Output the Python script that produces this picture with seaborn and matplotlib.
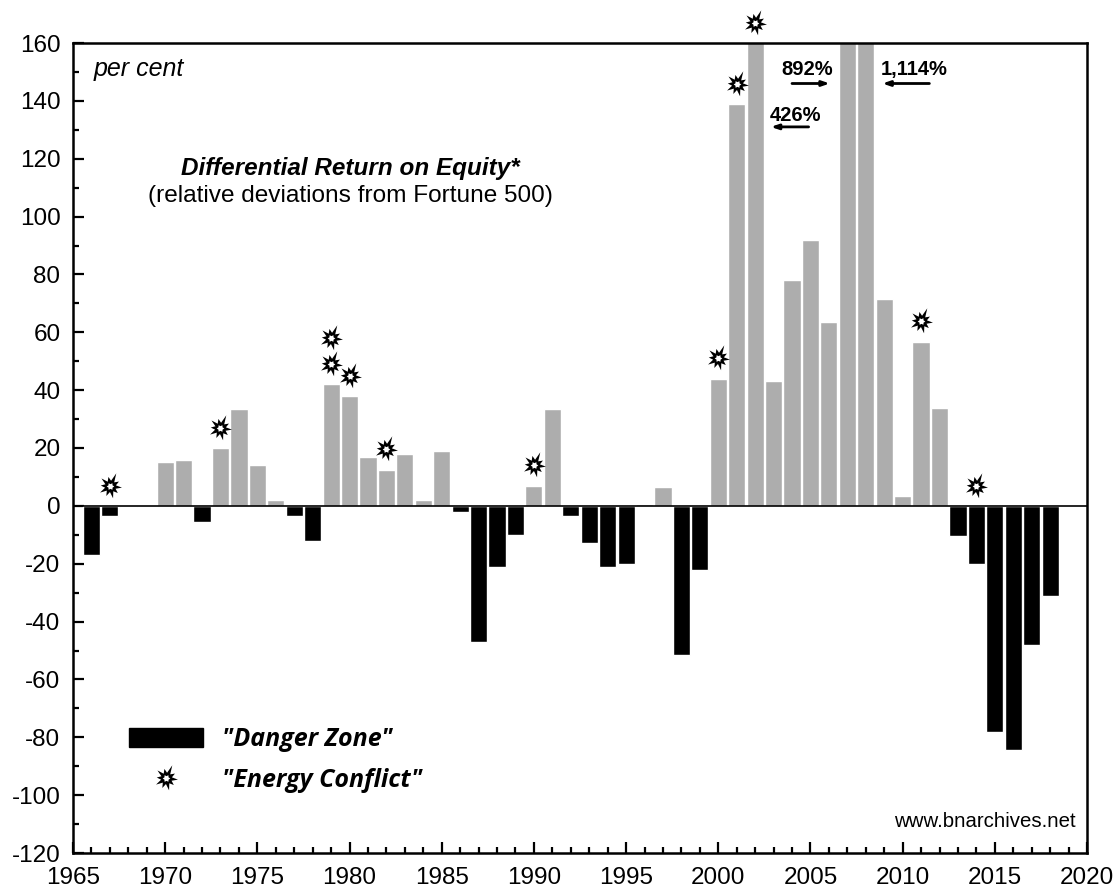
import numpy as np
import matplotlib
matplotlib.use("Agg")
import matplotlib.pyplot as plt
from matplotlib.legend_handler import HandlerTuple
from matplotlib.lines import Line2D
from matplotlib.patches import Patch
from matplotlib.path import Path
from matplotlib.ticker import MultipleLocator
import seaborn as sns

# =============================================
# DATA
# =============================================

years = list(range(1966, 2019))
values = [-17, -3.5, -0.5, 0, 15, 16, -5.5, 20, 33.5, 14, 2, -3.5, -12,
          42, 38, 17, 12.5, 18, 2, 19, -2, -47, -21, -10, 7, 33.5, -3.5,
          -13, -21, -20, 0.5, 6.5, -51.5, -22, 44, 139, 426, 43, 78, 92,
          63.5, 892, 1114, 71.5, 3.5, 56.5, 34, -10.5, -20, -78, -84.5, -48, -31]

conflict_years = [1967, 1973, 1979, 1979, 1980, 1982, 1990, 2000, 2001, 2002, 2011, 2014]
conflict_vals = [7, 27, 49, 58, 45, 19.5, 14, 51, 146, 167, 64, 7]

year_ticks = list(range(1965, 2021, 5))
pct_ticks = list(range(-120, 161, 20))

# =============================================
# EXPLOSION MARKER
# =============================================

blast_radii = [1.0, 0.48, 0.85, 0.48, 1.25, 0.5, 0.85, 0.48, 1.05, 0.48, 0.85, 0.48,
               1.05, 0.48, 0.9, 0.48, 1.05, 0.48, 0.85, 0.48]
blast_angles = np.linspace(0, 2 * np.pi, len(blast_radii), endpoint=False) - 0.1
blast = Path(np.column_stack([blast_radii * np.cos(blast_angles),
                              blast_radii * np.sin(blast_angles)]).tolist()
             + [[1.0, 0.0]],
             closed=True)
centre_angles = np.linspace(0, 2 * np.pi, 12, endpoint=False)
centre_radii = [0.42, 0.26] * 6
centre = Path(np.column_stack([centre_radii * np.cos(centre_angles),
                               centre_radii * np.sin(centre_angles)]).tolist()
              + [[0.42, 0.0]],
              closed=True)

# =============================================
# CHART
# =============================================

sns.set_theme(style="white")
plt.rcParams["font.family"] = ["Liberation Sans", "DejaVu Sans"]
plt.rcParams["axes.unicode_minus"] = False

fig, ax = plt.subplots(figsize=(11.17, 8.93), dpi=100)
fig.subplots_adjust(left=73 / 1117, right=1087 / 1117, top=1 - 43 / 893, bottom=1 - 853 / 893)

bar_group = ["danger" if v < 0 else "other" for v in values]
sns.barplot(x=years, y=values, hue=bar_group, palette={"danger": "black", "other": "#adadad"},
            native_scale=True, dodge=False, width=0.93, saturation=1, legend=False, ax=ax)

ax.set_xlim(1965, 2020)
ax.set_ylim(-120, 160)
ax.axhline(0, color="black", linewidth=1.2, zorder=3)

sns.scatterplot(x=conflict_years, y=conflict_vals, marker=blast, s=360, color="black",
                linewidth=0, clip_on=False, zorder=5, ax=ax)
sns.scatterplot(x=conflict_years, y=conflict_vals, marker=centre, s=30, color="white",
                linewidth=0, clip_on=False, zorder=6, ax=ax)

ax.set_xticks(year_ticks)
ax.set_yticks(pct_ticks)
ax.xaxis.set_minor_locator(MultipleLocator(1))
ax.yaxis.set_minor_locator(MultipleLocator(10))
ax.tick_params(which="major", direction="in", length=8, width=1.6, labelsize=17.5, color="black",
               labelcolor="black", bottom=True, left=True)
ax.tick_params(axis="x", which="major", pad=10)
ax.tick_params(axis="y", which="major", pad=9)
ax.tick_params(which="minor", direction="in", length=4.5, width=1.6, color="black", bottom=True, left=True)
ax.set_xlabel("")
ax.set_ylabel("")
for side in ax.spines.values():
    side.set_visible(True)
    side.set_color("black")
    side.set_linewidth(1.8)

# =============================================
# TEXT AND ARROWS
# =============================================

ax.text(1966.1, 151, "per cent", fontsize=18, style="italic", va="center", color="black")
ax.text(1980.07, 116.5, "Differential Return on Equity*", fontsize=17.5, style="italic",
        weight="bold", ha="center", va="center", color="black")
ax.text(1980.07, 107, "(relative deviations from Fortune 500)", fontsize=17.6,
        ha="center", va="center", color="black")
ax.text(2019.4, -109, "www.bnarchives.net", fontsize=14.7, ha="right", va="center", color="black")

arrow_style = dict(arrowstyle="-|>,head_length=0.35,head_width=0.12", color="black", lw=2,
                   shrinkA=0, shrinkB=0)
ax.annotate("", xy=(2006.05, 146), xytext=(2004.0, 146), arrowprops=arrow_style)
ax.annotate("", xy=(2002.85, 131), xytext=(2004.9, 131), arrowprops=arrow_style)
ax.annotate("", xy=(2008.9, 146), xytext=(2011.45, 146), arrowprops=arrow_style)
ax.text(2004.8, 150.7, "892%", fontsize=14.5, weight="bold", ha="center", va="center", color="black")
ax.text(2004.2, 135, "426%", fontsize=14.5, weight="bold", ha="center", va="center", color="black")
ax.text(2010.63, 150.7, "1,114%", fontsize=14.5, weight="bold", ha="center", va="center", color="black")

# =============================================
# LEGEND
# =============================================

blast_handle = Line2D([], [], linestyle="none", marker=blast, markersize=19, color="black",
                      markeredgewidth=0)
centre_handle = Line2D([], [], linestyle="none", marker=centre, markersize=5.5, color="white",
                       markeredgewidth=0)
handles = [Patch(facecolor="black", edgecolor="black"), (blast_handle, centre_handle)]
leg = ax.legend(handles, ['"Danger Zone"', '"Energy Conflict"'], frameon=False,
                loc="lower left", bbox_to_anchor=(0.033, 0.046), handlelength=2.96,
                handleheight=0.76, handletextpad=0.76, labelspacing=0.64,
                handler_map={tuple: HandlerTuple(ndivide=1, pad=0)},
                prop={"family": "Open Sans", "style": "italic", "weight": "bold", "size": 18})
for txt in leg.get_texts():
    txt.set_color("black")

plt.savefig("out.png", dpi=100)
